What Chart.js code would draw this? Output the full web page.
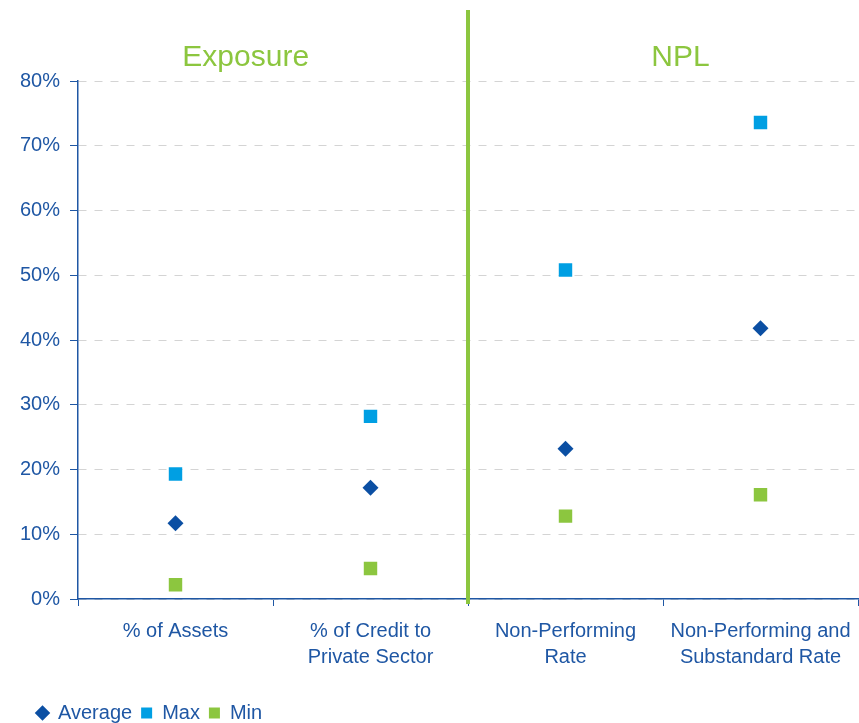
<!DOCTYPE html>
<html>
<head>
<meta charset="utf-8">
<script src="https://cdn.jsdelivr.net/npm/chart.js@4"></script>
<style>
  body { margin: 0; background: #fff; }
  #wrap { width: 859px; height: 723px; }
</style>
</head>
<body>
<div id="wrap"><canvas id="chart" width="859" height="723"></canvas></div>
<script>
// data
const categories = [
    ['% of Assets'],
    ['% of Credit to', 'Private Sector'],
    ['Non-Performing', 'Rate'],
    ['Non-Performing and', 'Substandard Rate']
];
const averageValues = [11.7, 17.2, 23.2, 41.8];
const maxValues = [19.3, 28.2, 50.8, 73.6];
const minValues = [2.2, 4.7, 12.8, 16.1];
const yTicks = [0, 10, 20, 30, 40, 50, 60, 70, 80];
const groupTitles = ['Exposure', 'NPL'];

const textBlue = '#1f57a4';
const green = '#8cc63f';
const fontFamily = '"Liberation Sans", Arial, sans-serif';

// titles above groups, divider line, legend placement
const groupPlugin = {
    id: 'groups',
    afterLayout(chart) {
        // legend sits a bit in from the left edge
        chart.legend.left = 28;
        chart.legend.top = 694;
    },
    afterDraw(chart) {
        const ctx = chart.ctx;
        const x = chart.scales.x;
        const area = chart.chartArea;
        ctx.save();
        const divX = x.getPixelForValue(1.5);
        ctx.strokeStyle = green;
        ctx.lineWidth = 4;
        ctx.beginPath();
        ctx.moveTo(divX, 10);
        ctx.lineTo(divX, area.bottom + 5);
        ctx.stroke();
        ctx.fillStyle = green;
        ctx.font = '30px ' + fontFamily;
        ctx.textAlign = 'center';
        ctx.textBaseline = 'middle';
        ctx.fillText(groupTitles[0], x.getPixelForValue(0.36), 58);
        ctx.fillText(groupTitles[1], x.getPixelForValue(2.59), 58);
        ctx.restore();
    }
};

const ctx = document.getElementById('chart').getContext('2d');
new Chart(ctx, {
    type: 'line',
    data: {
        labels: categories,
        datasets: [{
            label: 'Average',
            data: averageValues,
            showLine: false,
            pointStyle: 'rectRot',
            pointRadius: 8,
            pointHoverRadius: 8,
            backgroundColor: '#0b4fa3',
            borderColor: '#0b4fa3',
            borderWidth: 0
        }, {
            label: 'Max',
            data: maxValues,
            showLine: false,
            pointStyle: 'rect',
            pointRadius: 9.5,
            pointHoverRadius: 9.5,
            backgroundColor: '#009fe3',
            borderColor: '#009fe3',
            borderWidth: 0
        }, {
            label: 'Min',
            data: minValues,
            showLine: false,
            pointStyle: 'rect',
            pointRadius: 9.5,
            pointHoverRadius: 9.5,
            backgroundColor: '#8cc63f',
            borderColor: '#8cc63f',
            borderWidth: 0
        }]
    },
    options: {
        responsive: false,
        animation: false,
        layout: {
            autoPadding: false,
            padding: { top: 81, right: 1, left: 0, bottom: 0 }
        },
        plugins: {
            tooltip: { enabled: false },
            legend: {
                position: 'bottom',
                align: 'start',
                labels: {
                    usePointStyle: true,
                    boxWidth: 11,
                    boxHeight: 11,
                    padding: 9,
                    color: textBlue,
                    font: { family: fontFamily, size: 20 }
                }
            }
        },
        scales: {
            x: {
                offset: true,
                afterFit: function (scale) {
                    scale.height = 85;
                    scale.paddingLeft = 0;
                    scale.paddingRight = 0;
                },
                grid: {
                    offset: true,
                    drawOnChartArea: false,
                    tickLength: 7,
                    tickColor: textBlue
                },
                border: { color: textBlue, width: 1.5 },
                ticks: {
                    color: textBlue,
                    padding: 12,
                    font: { family: fontFamily, size: 20, lineHeight: 1.3 }
                }
            },
            y: {
                min: 0,
                max: 80,
                afterFit: function (scale) { scale.width = 78; },
                afterBuildTicks: function (scale) {
                    scale.ticks = yTicks.map(v => ({ value: v }));
                },
                grid: {
                    color: '#d4d4d4',
                    lineWidth: 1,
                    tickLength: 8,
                    tickColor: textBlue,
                    tickBorderDash: [],
                    drawTicks: true
                },
                border: { color: textBlue, width: 1.5, dash: [8, 8] },
                ticks: {
                    color: textBlue,
                    padding: 10,
                    callback: v => v + '%',
                    font: { family: fontFamily, size: 20 }
                }
            }
        }
    },
    plugins: [groupPlugin]
});
</script>
</body>
</html>
